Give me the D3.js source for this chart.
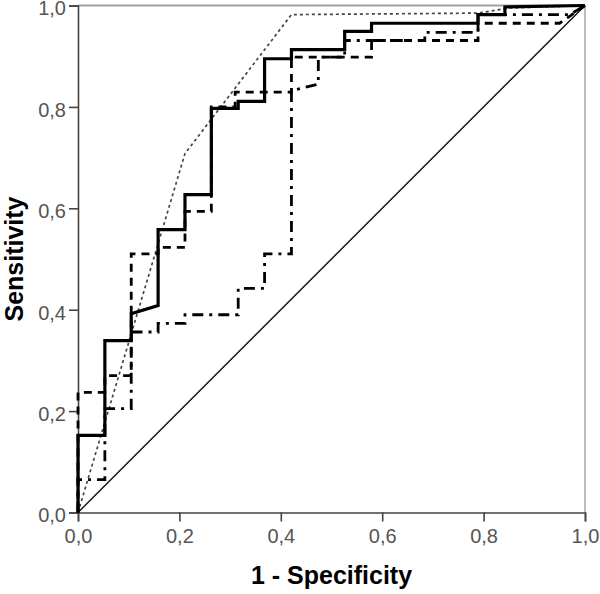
<!DOCTYPE html>
<html>
<head>
<meta charset="utf-8">
<script src="https://cdn.jsdelivr.net/npm/d3@7"></script>
<style>
  body { margin: 0; background: #fff; }
  svg { display: block; font-family: Arial, "Liberation Sans", sans-serif; }
</style>
</head>
<body>
<svg width="600" height="594"></svg>
<script>
// ROC curves (x = 1 - specificity, y = sensitivity)
const solidFpr = [0, 0, 0.053, 0.053, 0.105, 0.105, 0.158, 0.158, 0.211, 0.211, 0.263, 0.263, 0.316, 0.316, 0.368, 0.368, 0.421, 0.421, 0.526, 0.526, 0.579, 0.579, 0.789, 0.789, 0.842, 0.842, 1];
const solidTpr = [0, 0.152, 0.152, 0.339, 0.339, 0.392, 0.408, 0.558, 0.558, 0.627, 0.627, 0.797, 0.797, 0.811, 0.811, 0.895, 0.895, 0.913, 0.913, 0.949, 0.949, 0.965, 0.965, 0.982, 0.982, 0.997, 1];

const dashFpr = [0, 0, 0.053, 0.053, 0.105, 0.105, 0.158, 0.158, 0.211, 0.211, 0.263, 0.263, 0.31, 0.31, 0.421, 0.421, 0.579, 0.579, 0.789, 0.789, 0.95, 1];
const dashTpr = [0, 0.237, 0.237, 0.27, 0.27, 0.51, 0.51, 0.523, 0.523, 0.594, 0.594, 0.8, 0.8, 0.829, 0.829, 0.898, 0.898, 0.931, 0.931, 0.965, 0.965, 1];

const dashDotFpr = [0, 0, 0.053, 0.053, 0.105, 0.105, 0.158, 0.158, 0.211, 0.211, 0.316, 0.316, 0.368, 0.368, 0.421, 0.421, 0.474, 0.474, 0.526, 0.526, 0.684, 0.684, 0.789, 0.789, 0.97, 1];
const dashDotTpr = [0, 0.065, 0.065, 0.205, 0.205, 0.356, 0.356, 0.373, 0.373, 0.39, 0.39, 0.442, 0.442, 0.51, 0.51, 0.832, 0.845, 0.898, 0.898, 0.931, 0.931, 0.947, 0.947, 0.982, 0.982, 1];

const dotFpr = [0, 0.211, 0.421, 0.79, 0.85, 1];
const dotTpr = [0, 0.708, 0.982, 0.985, 0.995, 1];

const refFpr = [0, 1];
const refTpr = [0, 1];

const ticks = [0, 0.2, 0.4, 0.6, 0.8, 1.0];

const svg = d3.select('svg');
const m = { left: 78, top: 5.5, w: 507, h: 507 };

const x = d3.scaleLinear().domain([0, 1]).range([m.left, m.left + m.w]);
const y = d3.scaleLinear().domain([0, 1]).range([m.top + m.h, m.top]);
const fmt = d => d3.format('.1f')(d).replace('.', ',');

// frame (top and right, gray)
svg.append('line')
  .attr('x1', x(0)).attr('x2', x(1)).attr('y1', y(1)).attr('y2', y(1))
  .attr('stroke', '#a0a0a0').attr('stroke-width', 2);
svg.append('line')
  .attr('x1', x(1)).attr('x2', x(1)).attr('y1', y(0)).attr('y2', y(1))
  .attr('stroke', '#909090').attr('stroke-width', 1.2);

const xAxis = svg.append('g')
  .attr('transform', `translate(0,${y(0)})`)
  .call(d3.axisBottom(x).tickValues(ticks).tickFormat(fmt).tickSize(9).tickPadding(7));
const yAxis = svg.append('g')
  .attr('transform', `translate(${x(0)},0)`)
  .call(d3.axisLeft(y).tickValues(ticks).tickFormat(fmt).tickSize(9).tickPadding(3));

[xAxis, yAxis].forEach(g => {
  g.select('.domain').attr('stroke', '#444').attr('stroke-width', 1.6);
  g.selectAll('.tick line').attr('stroke', '#444').attr('stroke-width', 1.6);
  g.selectAll('.tick text')
    .attr('fill', '#555')
    .style('font-size', '20px')
    .style('font-family', 'Arial, "Liberation Sans", sans-serif');
});
// y labels sit a little below their ticks, as in the original
yAxis.selectAll('.tick text').attr('y', 3);

const line = d3.line().x(d => x(d[0])).y(d => y(d[1]));
const pts = (fx, fy) => fx.map((v, i) => [v, fy[i]]);

const series = [
  { fx: refFpr, fy: refTpr, stroke: '#111', width: 1.4, dash: null },
  { fx: dotFpr, fy: dotTpr, stroke: '#444', width: 1.7, dash: '3,3' },
  { fx: dashDotFpr, fy: dashDotTpr, stroke: '#000', width: 2.8, dash: '11,6,3,6' },
  { fx: dashFpr, fy: dashTpr, stroke: '#000', width: 2.8, dash: '8,6' },
  { fx: solidFpr, fy: solidTpr, stroke: '#000', width: 3.2, dash: null },
];

svg.selectAll('path.roc')
  .data(series)
  .enter()
  .append('path')
  .attr('class', 'roc')
  .attr('d', s => line(pts(s.fx, s.fy)))
  .attr('fill', 'none')
  .attr('stroke', s => s.stroke)
  .attr('stroke-width', s => s.width)
  .attr('stroke-dasharray', s => s.dash)
  .attr('stroke-linejoin', 'miter');

svg.append('text')
  .attr('x', x(0.5)).attr('y', 584)
  .attr('text-anchor', 'middle')
  .style('font-size', '25px').style('font-weight', 'bold')
  .text('1 - Specificity');

svg.append('text')
  .attr('transform', `translate(23,${y(0.5)}) rotate(-90)`)
  .attr('text-anchor', 'middle')
  .style('font-size', '25px').style('font-weight', 'bold')
  .text('Sensitivity');
</script>
</body>
</html>
